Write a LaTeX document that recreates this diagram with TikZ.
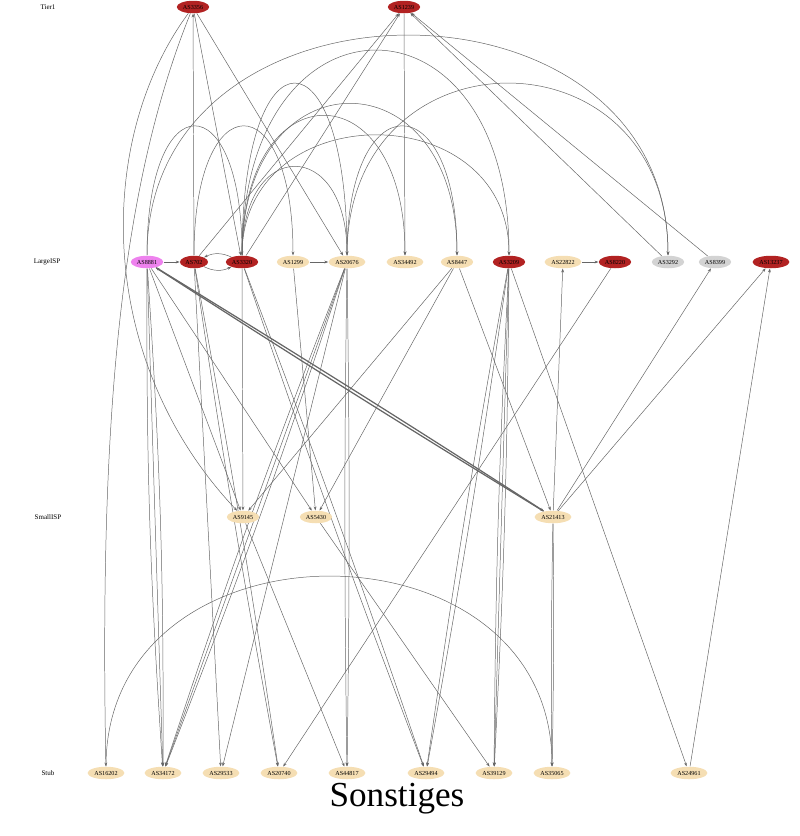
\documentclass[tikz,border=0pt]{standalone}
\usepackage{fontspec}
\setmainfont{Liberation Serif}
\usetikzlibrary{arrows.meta,shapes.geometric,backgrounds}
\definecolor{tierred}{HTML}{B22222}
\definecolor{stubwheat}{HTML}{F5DEB3}
\definecolor{ispviolet}{HTML}{EE82EE}
\definecolor{ispgray}{HTML}{D3D3D3}
\tikzset{
  asnode/.style={ellipse, inner sep=0.8pt, minimum height=0.25cm, font=\fontsize{3.5}{4}\selectfont},
  redas/.style={asnode, fill=tierred},
  wheatas/.style={asnode, fill=stubwheat},
  violetas/.style={asnode, fill=ispviolet},
  grayas/.style={asnode, fill=ispgray},
  rank/.style={font=\fontsize{4}{5}\selectfont},
  link/.style={draw=black!60, line width=0.28pt, -{Stealth[length=2.2pt,width=1.6pt]}},
}
\begin{document}
\begin{tikzpicture}[x=0.02cm, y=-0.02cm]
  \useasboundingbox (0,0) rectangle (800,836);
  % ranks
  \node[rank] (tier) at (48,7) {Tier1};
  \node[rank] (large) at (47,262) {LargeISP};
  \node[rank] (small) at (48,517) {SmallISP};
  \node[rank] (stub) at (48,773) {Stub};
  % tier 1
  \node[redas] (as3356) at (193,7) {AS3356};
  \node[redas] (as1239) at (404,7) {AS1239};
  % large isp
  \node[violetas] (as8881) at (147,262) {AS8881};
  \node[redas] (as702) at (194,262) {AS702};
  \node[redas] (as3320) at (242,262) {AS3320};
  \node[wheatas] (as1299) at (293,262) {AS1299};
  \node[wheatas] (as20676) at (347,262) {AS20676};
  \node[wheatas] (as34492) at (405,262) {AS34492};
  \node[wheatas] (as8447) at (457,262) {AS8447};
  \node[redas] (as3209) at (509,262) {AS3209};
  \node[wheatas] (as22822) at (563,262) {AS22822};
  \node[redas] (as8220) at (615,262) {AS8220};
  \node[grayas] (as3292) at (668,262) {AS3292};
  \node[grayas] (as8399) at (715,262) {AS8399};
  \node[redas] (as13237) at (771,262) {AS13237};
  % small isp
  \node[wheatas] (as9145) at (243,517) {AS9145};
  \node[wheatas] (as5430) at (316,517) {AS5430};
  \node[wheatas] (as21413) at (553,517) {AS21413};
  % stub
  \node[wheatas] (as16202) at (106,773) {AS16202};
  \node[wheatas] (as34172) at (163,773) {AS34172};
  \node[wheatas] (as29533) at (221,773) {AS29533};
  \node[wheatas] (as20740) at (279,773) {AS20740};
  \node[wheatas] (as44817) at (347,773) {AS44817};
  \node[wheatas] (as29494) at (426,773) {AS29494};
  \node[wheatas] (as39129) at (494,773) {AS39129};
  \node[wheatas] (as35065) at (552,773) {AS35065};
  \node[wheatas] (as24961) at (689,773) {AS24961};
  \node[font=\fontsize{20}{24}\selectfont] (title) at (397,799) {Sonstiges};
  \begin{scope}[on background layer]
    % to and from tier 1
    \draw[link] (as702) -- (as3356);
    \draw[link] (as3356) -- (as3320);
    \draw[link] (as3356) -- (as20676);
    \draw[link] (as3356) .. controls (115,200) and (100,450) .. (as16202);
    \draw[link] (as3356) .. controls (95,140) and (95,360) .. (as9145);
    \draw[link] (as702) -- (as1239);
    \draw[link] (as3320) -- (as1239);
    \draw[link] (as3292) -- (as1239);
    \draw[link] (as8399) -- (as1239);
    \draw[link] (as1239) -- (as34492);
    % inside the large isp row
    \draw[link] (as8881) -- (as702);
    \draw[link] (as3320) to[bend right=25] (as702);
    \draw[link] (as702) to[bend right=25] (as3320);
    \draw[link] (as1299) -- (as20676);
    \draw[link] (as22822) -- (as8220);
    \draw[link] (as8881) .. controls +(0,-300) and +(0,-300) .. (as3292);
    \draw[link] (as8881) .. controls +(0,-179) and +(0,-179) .. (as3320);
    \draw[link] (as702) .. controls +(0,-179) and +(0,-179) .. (as1299);
    \draw[link] (as3320) .. controls +(0,-236) and +(0,-236) .. (as20676);
    \draw[link] (as3320) .. controls +(0,-125) and +(0,-125) .. (as20676);
    \draw[link] (as3320) .. controls +(0,-280) and +(0,-280) .. (as3209);
    \draw[link] (as3320) .. controls +(0,-167) and +(0,-167) .. (as3209);
    \draw[link] (as3320) .. controls +(0,-193) and +(0,-193) .. (as34492);
    \draw[link] (as3320) .. controls +(0,-209) and +(0,-209) .. (as8447);
    \draw[link] (as20676) .. controls +(0,-179) and +(0,-179) .. (as8447);
    \draw[link] (as20676) .. controls +(0,-236) and +(0,-236) .. (as3292);
    % down to small isp and stub
    \foreach \b in {-2,0,2}
      \draw[link] (as8881) to[bend left=\b] (as34172);
    \draw[link] (as8881) -- (as9145);
    \draw[link] (as8881) -- (as5430);
    \draw[link, line width=0.7pt] (as8881) to[bend left=0.6] (as21413);
    \draw[link, line width=0.7pt] (as21413) to[bend left=0.6] (as8881);
    \foreach \b in {-1,1}
      \draw[link] (as702) to[bend left=\b] (as20740);
    \draw[link] (as702) -- (as29533);
    \draw[link] (as3320) -- (as9145);
    \foreach \b in {-1,1}
      \draw[link] (as3320) to[bend left=\b] (as29494);
    \foreach \b in {-1.5,0,1.5}
      \draw[link] (as20676) to[bend left=\b] (as34172);
    \draw[link] (as20676) -- (as29533);
    \foreach \b in {-0.8,0.8}
      \draw[link] (as20676) to[bend left=\b] (as44817);
    \draw[link] (as1299) -- (as5430);
    \draw[link] (as8447) -- (as9145);
    \draw[link] (as8447) -- (as5430);
    \draw[link] (as8447) -- (as21413);
    \foreach \b in {-1,1}
      \draw[link] (as3209) to[bend left=\b] (as29494);
    \foreach \b in {-1.2,0,1.2}
      \draw[link] (as3209) to[bend left=\b] (as39129);
    \draw[link] (as3209) -- (as24961);
    \draw[link] (as8220) -- (as20740);
    \draw[link] (as21413) -- (as22822);
    \draw[link] (as21413) -- (as8399);
    \draw[link] (as21413) -- (as13237);
    \draw[link] (as24961) -- (as13237);
    \foreach \b in {-0.8,0.8}
      \draw[link] (as21413) to[bend left=\b] (as35065);
    \draw[link] (as9145) -- (as44817);
    \draw[link] (as5430) -- (as39129);
    \draw[link] (as16202) .. controls +(0,-260) and +(0,-260) .. (as35065);
  \end{scope}
\end{tikzpicture}
\end{document}
